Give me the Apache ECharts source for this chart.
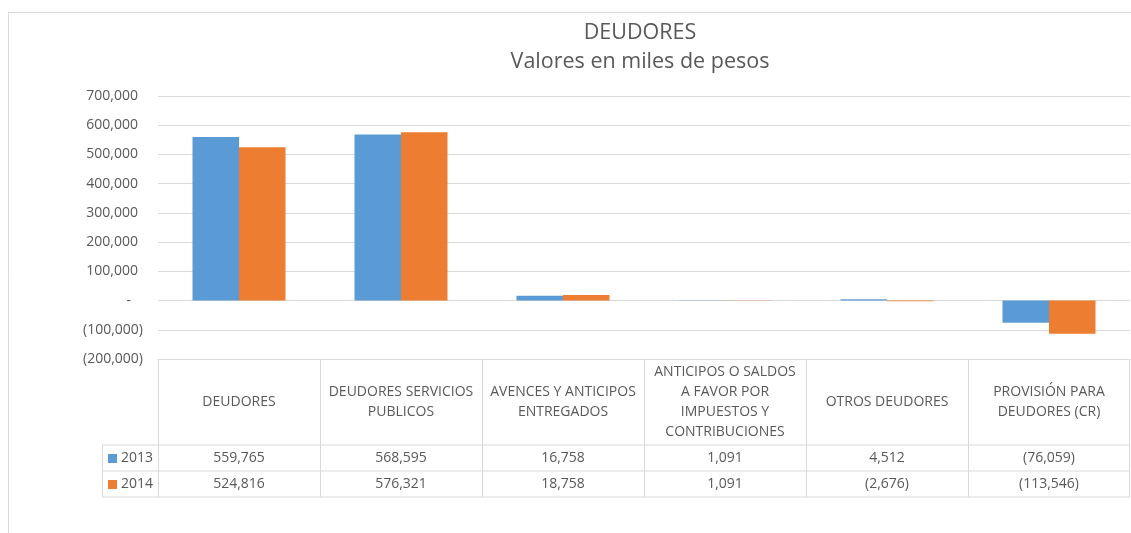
<!DOCTYPE html>
<html>
<head>
<meta charset="utf-8">
<script src="https://cdn.jsdelivr.net/npm/echarts@6/dist/echarts.min.js"></script>
<style>
  html, body { margin: 0; padding: 0; background: #fff; }
  #chart { width: 1131px; height: 533px; }
</style>
</head>
<body>
<div id="chart"></div>
<script>
// data
const categories = [
  "DEUDORES",
  "DEUDORES SERVICIOS\nPUBLICOS",
  "AVENCES Y ANTICIPOS\nENTREGADOS",
  "ANTICIPOS O SALDOS\nA FAVOR POR\nIMPUESTOS Y\nCONTRIBUCIONES",
  "OTROS DEUDORES",
  "PROVISIÓN PARA\nDEUDORES (CR)"
];
const years = ["2013", "2014"];
const values2013 = [559765, 568595, 16758, 1091, 4512, -76059];
const values2014 = [524816, 576321, 18758, 1091, -2676, -113546];
const yMin = -200000;
const yMax = 700000;
const yStep = 100000;

const colors = ["#5B9BD5", "#ED7D31"];
const textColor = "#595959";
const lineColor = "#d9d9d9";
const font = "'Open Sans', 'Noto Sans', sans-serif";

// grid box (px)
const gridLeft = 158, gridRight = 1, gridTop = 96, gridBottom = 174;

// 1,234 / (1,234) like Excel
function fmt(v) {
  const s = Math.abs(v).toLocaleString("en-US");
  return v < 0 ? "(" + s + ")" : s;
}

const chart = echarts.init(document.getElementById("chart"));

chart.setOption({
  animation: false,
  textStyle: { fontFamily: font },
  grid: { left: gridLeft, right: gridRight, top: gridTop, bottom: gridBottom },
  xAxis: {
    type: "category",
    data: categories,
    axisLine: { onZero: false, lineStyle: { color: lineColor } },
    axisTick: { show: false },
    axisLabel: {
      interval: 0,
      color: textColor,
      fontSize: 14,
      lineHeight: 20,
      verticalAlign: "middle",
      margin: 43,
    },
  },
  yAxis: {
    type: "value",
    min: yMin,
    max: yMax,
    interval: yStep,
    axisLine: { show: false },
    axisTick: { show: false },
    splitLine: { lineStyle: { color: lineColor } },
    axisLabel: {
      margin: 15,
      formatter: (v) => {
        if (v === 0) return "{z|-}";
        if (v < 0) return "{n|" + fmt(v) + "}";
        return "{p|" + fmt(v) + "}";
      },
      rich: {
        p: { color: textColor, fontSize: 14, padding: [0, 5, 0, 0] },
        n: { color: textColor, fontSize: 14 },
        z: { color: textColor, fontSize: 14, padding: [0, 12, 0, 0] },
      },
    },
  },
  series: [
    {
      name: years[0],
      type: "bar",
      data: values2013,
      itemStyle: { color: colors[0] },
      barGap: "0%",
      barCategoryGap: "42.6%",
    },
    {
      name: years[1],
      type: "bar",
      data: values2014,
      itemStyle: { color: colors[1] },
    },
  ],
});

// table under the plot + title + outer border
function drawExtras() {
  const width = chart.getWidth();
  const plotW = width - gridLeft - gridRight;
  const band = plotW / categories.length;
  const tableTop = Math.round(chart.convertToPixel({ yAxisIndex: 0 }, yMin)) + 0.5;
  const rowTop = tableTop + 85.5;
  const rowH = 26;
  const rows = [values2013, values2014];
  const legendLeft = 102;
  const els = [];

  const line = (x1, y1, x2, y2) => els.push({
    type: "line",
    shape: { x1, y1, x2, y2 },
    style: { stroke: lineColor, lineWidth: 1 },
    silent: true,
  });

  // vertical column lines
  for (let i = 0; i <= categories.length; i++) {
    const x = Math.round(gridLeft + band * i) + 0.5 - (i === categories.length ? 1 : 0);
    line(x, tableTop, x, rowTop + rowH * 2);
  }
  // horizontal row lines
  line(legendLeft, rowTop, width - 1, rowTop);
  line(legendLeft, rowTop + rowH, width - 1, rowTop + rowH);
  line(legendLeft, rowTop + rowH * 2, width - 1, rowTop + rowH * 2);
  line(legendLeft + 0.5, rowTop, legendLeft + 0.5, rowTop + rowH * 2);

  rows.forEach((vals, r) => {
    const cy = rowTop + rowH * r + rowH / 2;
    els.push({
      type: "rect",
      shape: { x: 108, y: Math.round(cy - 4.5), width: 9, height: 9 },
      style: { fill: colors[r] },
      silent: true,
    });
    els.push({
      type: "text",
      style: {
        text: years[r], x: 121, y: cy,
        align: "left", verticalAlign: "middle",
        fontSize: 14, fontFamily: font, fill: textColor,
      },
      silent: true,
    });
    vals.forEach((v, i) => {
      const cx = chart.convertToPixel({ xAxisIndex: 0 }, i);
      els.push({
        type: "text",
        style: {
          text: fmt(v), x: cx, y: cy,
          align: "center", verticalAlign: "middle",
          fontSize: 14, fontFamily: font, fill: textColor,
        },
        silent: true,
      });
    });
  });

  // title
  els.push({
    type: "text",
    style: {
      text: "DEUDORES", x: 640, y: 33,
      align: "center", verticalAlign: "middle",
      fontSize: 21.5, fontFamily: font, fill: textColor,
    },
    silent: true,
  });
  els.push({
    type: "text",
    style: {
      text: "Valores en miles de pesos", x: 640, y: 62,
      align: "center", verticalAlign: "middle",
      fontSize: 21.5, fontFamily: font, fill: textColor,
    },
    silent: true,
  });

  // outer chart frame
  els.push({
    type: "rect",
    shape: { x: 8.5, y: 12.5, width: 1200, height: 600 },
    style: { fill: null, stroke: lineColor, lineWidth: 1 },
    silent: true,
    z: -10,
  });

  chart.setOption({ graphic: els });
}
drawExtras();
</script>
</body>
</html>
